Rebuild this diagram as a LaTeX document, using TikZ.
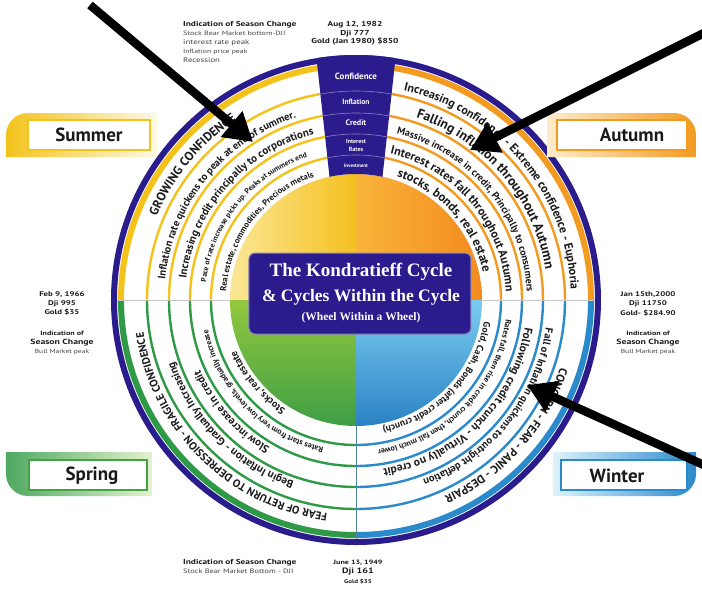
\documentclass[tikz,border=0pt]{standalone}
\usepackage{fontspec}
\setmainfont{PT Sans}
\newfontfamily\titlefont{Liberation Serif}
\newfontfamily\infofont[FakeStretch=1.3]{PT Sans}
\usetikzlibrary{decorations.text,arrows.meta}
\definecolor{navy}{HTML}{2A1C8C}
\definecolor{sumC}{HTML}{F3C31B}
\definecolor{autC}{HTML}{F39A21}
\definecolor{sprC}{HTML}{2F9A45}
\definecolor{winC}{HTML}{2B8ACB}
\definecolor{sumL}{HTML}{FBE796}
\definecolor{sumD}{HTML}{F5C01F}
\definecolor{autL}{HTML}{F9B43A}
\definecolor{autD}{HTML}{F38B1F}
\definecolor{sprL}{HTML}{93C83E}
\definecolor{sprD}{HTML}{3E9E45}
\definecolor{winL}{HTML}{7ACDF0}
\definecolor{winD}{HTML}{2A82C4}
\definecolor{ink}{HTML}{1A1A1A}
\definecolor{greyink}{HTML}{444444}
\newcommand\ringtxt[5]{%
  \path[decorate,decoration={text along path,text align=center,
    text={|\fontsize{#4}{#4}\selectfont\bfseries\color{ink}|#5}}]
    ({#2+14}:#1) arc[start angle={#2+14},end angle={#3-14},radius=#1];}
\newcommand\qring[3]{%
  \foreach \r in {145,166,187,209}
    \draw[#1,line width=2.4] (#2:\r) arc[start angle=#2,end angle=#3,radius=\r];
  \draw[#1,line width=6] (#2:235) arc[start angle=#2,end angle=#3,radius=235];}
\newcommand\ib[1]{\infofont\fontsize{#1}{#1}\selectfont\bfseries}
\newcommand\ir[1]{\infofont\fontsize{#1}{#1}\selectfont\color{greyink}}
\tikzset{
  colbox/.style={text=white,inner sep=0,align=center},
  tabtxt/.style={font=\fontsize{19}{19}\selectfont\bfseries,text=ink},
  infoblk/.style={inner sep=0,text=ink},
  bigarrow/.style={line width=8.5,-{Triangle[length=28pt,width=32pt]}}
}
\begin{document}
\begin{tikzpicture}[x=1pt,y=1pt]
\useasboundingbox (-356,-290) rectangle (346,300);
\fill[white] (-356,-290) rectangle (346,300);

% inner disk quadrants
\shade[left color=sumL,right color=sumD] (0,0) -- (180:126) arc[start angle=180,end angle=90,radius=126] -- cycle;
\shade[left color=autL,right color=autD] (0,0) -- (90:126) arc[start angle=90,end angle=0,radius=126] -- cycle;
\shade[top color=sprL,bottom color=sprD] (0,0) -- (270:126) arc[start angle=270,end angle=180,radius=126] -- cycle;
\shade[top color=winL,bottom color=winD] (0,0) -- (0:126) arc[start angle=0,end angle=-90,radius=126] -- cycle;

% ring lines
\qring{sumC}{180}{90}
\qring{autC}{90}{0}
\qring{sprC}{270}{180}
\qring{winC}{0}{-90}

% quadrant dividers
\draw[gray!45,line width=0.8] (-239,0) -- (-126,0);
\draw[gray!45,line width=0.8] (126,0) -- (239,0);
\draw[winC!50!gray,line width=0.8] (0,-126) -- (0,-239);

% outer navy rim
\draw[navy,line width=6] (0,0) circle[radius=242];

% navy column
\fill[navy] (77.86:126) -- (80.72:245) arc[start angle=80.72,end angle=99.28,radius=245] -- (102.14:126) arc[start angle=102.14,end angle=77.86,radius=126] -- cycle;
\begin{scope}
\clip (77.86:126) -- (80.72:245) arc[start angle=80.72,end angle=99.28,radius=245] -- (102.14:126) arc[start angle=102.14,end angle=77.86,radius=126] -- cycle;
\foreach \r in {145,166,187,209}
  \draw[navy!55!white,line width=0.6] (0,0) circle[radius=\r];
\end{scope}
\node[colbox,font=\fontsize{9}{9}\selectfont\bfseries] (cConf) at (0,224) {Confidence};
\node[colbox,font=\fontsize{7.5}{7.5}\selectfont\bfseries] (cInfl) at (0,198) {Inflation};
\node[colbox,font=\fontsize{8}{8}\selectfont\bfseries] (cCred) at (0,177) {Credit};
\node[colbox,font=\fontsize{6}{8}\selectfont\bfseries] (cRate) at (0,155) {\fontsize{6}{8}\selectfont\bfseries Interest\\\fontsize{6}{8}\selectfont\bfseries Rates};
\node[colbox,font=\fontsize{5}{5}\selectfont\bfseries] (cInv) at (0,134) {Investment};

% title box
\node[fill=navy,draw=navy!55!white,line width=1,rounded corners=6,minimum width=222,minimum height=81,inner sep=0] (title) at (4,6.5) {};
\node[text=white,font=\titlefont\fontsize{19}{19}\selectfont\bfseries,inner sep=0] (t1) at (5,28) {The Kondratieff Cycle};
\node[text=white,font=\titlefont\fontsize{17.5}{17.5}\selectfont\bfseries,inner sep=0] (t2) at (5,3) {\& Cycles Within the Cycle};
\node[text=white,font=\titlefont\fontsize{11.5}{11.5}\selectfont\bfseries,inner sep=0] (t3) at (5,-18) {(Wheel Within a Wheel)};

% summer ring texts
\ringtxt{216}{160}{121}{12.5}{GROWING CONFIDENCE}
\ringtxt{192}{176}{106}{10.5}{Inflation rate quickens to peak at end of summer.}
\ringtxt{171}{173}{104}{11}{Increasing credit principally to corporations}
\ringtxt{151}{176}{106}{7.5}{Pace of rate increase picks up. Peaks at summers end}
\ringtxt{130}{177}{108}{8.5}{Real estate, commodities, Precious metals}
% autumn
\ringtxt{215}{78}{2}{12}{Increasing confidence - Extreme confidence - Euphoria}
\ringtxt{192}{74}{7}{13.5}{Falling inflation throughout Autumn}
\ringtxt{171}{76}{3}{10}{Massive increase in credit, Principally to consumers}
\ringtxt{150}{77}{3}{12}{Interest rates fall throughout Autumn}
\ringtxt{130}{75}{9}{12.5}{stocks, bonds, real estate}
% spring
\ringtxt{215}{268}{183}{11}{FEAR OF RETURN TO DEPRESSION - FRAGILE CONFIDENCE}
\ringtxt{192}{254}{196}{11}{Begin Inflation - Gradually Increasing}
\ringtxt{171}{242}{202}{11}{Slow increase in credit}
\ringtxt{151}{263}{186}{8}{Rates start from very low levels, gradually increase}
\ringtxt{130}{240}{200}{10}{Stocks, real estate}
% winter
\ringtxt{215}{-11}{-73}{11.5}{CONCERN - FEAR - PANIC - DESPAIR}
\ringtxt{192}{-7}{-71}{10.5}{Fall of Inflation quickens to outright deflation}
\ringtxt{171}{-5}{-85}{11.5}{Following credit crunch - Virtually no credit}
\ringtxt{151}{-5}{-84}{8}{Rates fall, then rise in credit crunch, then fall much lower}
\ringtxt{130}{-8}{-80}{9.5}{Gold, Cash, Bonds (after credit crunch)}

% ---------- items placed in image coordinates ----------
\begin{scope}[shift={(-356,300)},yscale=-1]
% season tabs
\shade[left color=sumC,right color=sumL!25!white] (6,157) -- (6,135) arc[start angle=180,end angle=270,radius=22] -- (157,113) -- (157,157) -- cycle;
\node[draw=sumC,line width=2,fill=white,minimum width=122,minimum height=30,inner sep=0] (sumBox) at (89,135) {};
\node[tabtxt] (sumLbl) at (89,135) {Summer};

\shade[left color=autL!25!white,right color=autC] (696,157) -- (696,135) arc[start angle=0,end angle=-90,radius=22] -- (547,113) -- (547,157) -- cycle;
\node[draw=autC,line width=2,fill=white,minimum width=130,minimum height=30,inner sep=0] (autBox) at (622,135) {};
\node[tabtxt] (autLbl) at (632,135) {Autumn};

\shade[left color=sprC!85!white,right color=sprL!25!white] (6,452) -- (152,452) -- (152,496) -- (28,496) arc[start angle=90,end angle=180,radius=22] -- cycle;
\node[draw=sprC!80!sprL,line width=2,fill=white,minimum width=118,minimum height=30,inner sep=0] (sprBox) at (88,475) {};
\node[tabtxt] (sprLbl) at (92,476) {Spring};

\shade[left color=winL!25!white,right color=winC] (696,452) -- (553,452) -- (553,496) -- (674,496) arc[start angle=90,end angle=0,radius=22] -- cycle;
\node[draw=winC,line width=2,fill=white,minimum width=126,minimum height=30,inner sep=0] (winBox) at (624,475) {};
\node[tabtxt] (winLbl) at (617,476) {Winter};

% info texts
\node[anchor=north west,infoblk,align=left,font=\fontsize{6}{8.9}\selectfont] (infoTL) at (183,21.5)
  {\ib{7.2}Indication of Season Change\\
   \ir{6.2}Stock Bear Market bottom-DJI\\
   \ir{6.8}interest rate peak\\
   \ir{6}Inflation price peak\\
   \ir{6.8}Recession};
\node[anchor=north,infoblk,align=center,font=\fontsize{6}{8.5}\selectfont] (infoTC) at (355,21.5)
  {\ib{7.2}Aug 12, 1982\\ \ib{7.2}Dji 777\\ \ib{7.2}Gold (Jan 1980) \$850};
\node[anchor=north,infoblk,align=center,font=\fontsize{6}{9}\selectfont] (infoL1) at (62,291)
  {\ib{6.8}Feb 9, 1966\\ \ib{6.8}Dji 995\\ \ib{6.8}Gold \$35};
\node[anchor=north,infoblk,align=center,font=\fontsize{6}{9}\selectfont] (infoL2) at (62,330.5)
  {\ib{6.2}Indication of\\ \ib{7.5}Season Change\\ \ir{5.8}Bull Market peak};
\node[anchor=north,infoblk,align=center,font=\fontsize{6}{9.5}\selectfont] (infoR1) at (648,291)
  {\ib{6.8}Jan 15th,2000\\ \ib{6.8}Dji 11750\\ \ib{6.8}Gold- \$284.90};
\node[anchor=north,infoblk,align=center,font=\fontsize{6}{9}\selectfont] (infoR2) at (648,330.5)
  {\ib{6.2}Indication of\\ \ib{7.5}Season Change\\ \ir{5.8}Bull Market peak};
\node[anchor=north west,infoblk,align=left,font=\fontsize{6}{8.5}\selectfont] (infoBL) at (183,559.5)
  {\ib{7.2}Indication of Season Change\\
   \ir{6.4}Stock Bear Market Bottom - DJI};
\node[anchor=north,infoblk] (infoBC1) at (358,559.5) {\ib{6.2}June 13, 1949};
\node[anchor=north,infoblk] (infoBC2) at (358,568) {\ib{7.8}Dji 161};
\node[anchor=north,infoblk] (infoBC3) at (358,579) {\ib{5.4}Gold \$35};

% arrows
\coordinate (a1s) at (90,5);
\coordinate (a1e) at (253,142);
\coordinate (a2s) at (706,32);
\coordinate (a2e) at (470,150);
\coordinate (a3s) at (706,466);
\coordinate (a3e) at (527,385);
\draw[bigarrow] (a1s) -- (a1e);
\draw[bigarrow] (a2s) -- (a2e);
\draw[bigarrow] (a3s) -- (a3e);
\end{scope}
\end{tikzpicture}
\end{document}
